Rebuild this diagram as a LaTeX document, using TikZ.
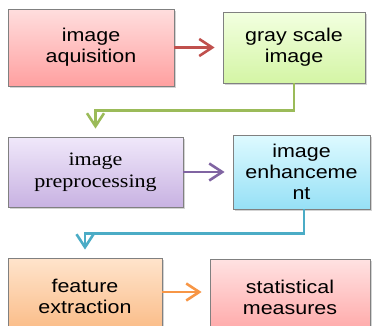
\documentclass[tikz,border=0pt]{standalone}
\usepackage{fontspec}
\setmainfont{Liberation Sans}[FakeStretch=1.16]
\newfontfamily\timesface{Liberation Serif}[FakeStretch=1.16]
\usetikzlibrary{arrows.meta,shadows}
\definecolor{redline}{HTML}{C0504D}
\definecolor{greenline}{HTML}{9BBB59}
\definecolor{purpleline}{HTML}{8064A2}
\definecolor{cyanline}{HTML}{4BACC6}
\definecolor{orangeline}{HTML}{F79646}

\begin{document}
\begin{tikzpicture}[x=1pt, y=1pt,
    block/.style ={rectangle, draw=black!50, line width=0.8pt, align=center, inner sep=0pt,
      font=\fontsize{18.5}{21}\selectfont,
      drop shadow={shadow xshift=1.5pt, shadow yshift=-1.8pt, opacity=0.35}},
    flow/.style ={line width=2.6pt, shorten >=8pt,
      -{Straight Barb[length=13pt, width=17pt]}}]
   \useasboundingbox (0,0) rectangle (372,325);
   \node[block, minimum width=166, minimum height=77,
     top color={rgb,255:red,255;green,222;blue,222}, bottom color={rgb,255:red,255;green,160;blue,160}]
     (acq) at (91,277.5) {image\\aquisition};
   \node[block, minimum width=142, minimum height=71,
     top color={rgb,255:red,242;green,255;blue,224}, bottom color={rgb,255:red,212;green,245;blue,165}]
     (gray) at (294,277.5) {gray scale\\image};
   \node[block, minimum width=175, minimum height=70, font=\timesface\fontsize{19}{22}\selectfont,
     top color={rgb,255:red,240;green,232;blue,250}, bottom color={rgb,255:red,200;green,178;blue,226}]
     (prep) at (95.5,153) {image\\preprocessing};
   \node[block, minimum width=137, minimum height=74,
     top color={rgb,255:red,222;green,250;blue,255}, bottom color={rgb,255:red,150;green,224;blue,246}]
     (enh) at (301.5,153) {image\\enhanceme\\nt};
   \node[block, minimum width=154, minimum height=76,
     top color={rgb,255:red,255;green,228;blue,204}, bottom color={rgb,255:red,250;green,186;blue,132}]
     (feat) at (85,29) {feature\\extraction};
   \node[block, minimum width=160, minimum height=76,
     top color={rgb,255:red,255;green,226;blue,226}, bottom color={rgb,255:red,255;green,166;blue,166}]
     (stat) at (290,28) {statistical\\measures};
   \draw[flow, redline] (acq) to (gray);
   \draw[flow, greenline] (gray.south) -- ++(0,-27) -| (prep.north);
   \draw[flow, purpleline] (prep) to (enh);
   \draw[flow, cyanline] ([xshift=2.5pt]enh.south) -- ++(0,-24) -| (feat.north);
   \draw[flow, orangeline] ([yshift=4pt]feat.east) to ([yshift=4pt]stat.west |- feat);
\end{tikzpicture}
\end{document}
